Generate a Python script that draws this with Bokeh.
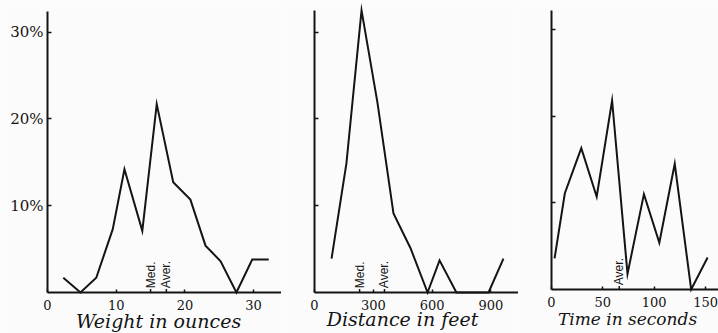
from math import pi
from bokeh.plotting import figure
from bokeh.layouts import row
from bokeh.models import FixedTicker, Label
from bokeh.embed import file_html
from bokeh.resources import INLINE

# ---------------- data ----------------
weight_oz = [2.3, 4.8, 7.1, 9.5, 11.2, 13.8, 15.9, 18.3, 20.8, 23.0, 25.2, 27.5, 29.8, 32.2]
weight_pct = [1.7, 0.0, 1.7, 7.3, 14.2, 7.1, 21.7, 12.7, 10.7, 5.4, 3.6, 0.0, 3.8, 3.8]
weight_ticks = [0, 10, 20, 30]
weight_marks = [15.0, 17.3]
weight_mark_labels = ["Med.", "Aver."]

distance_ft = [87, 163, 240, 321, 403, 490, 577, 638, 724, 888, 964]
distance_pct = [3.9, 14.9, 32.5, 21.9, 9.1, 5.1, 0.0, 3.7, 0.0, 0.0, 3.9]
distance_ticks = [0, 300, 600, 900]
distance_marks = [230, 357]
distance_mark_labels = ["Med.", "Aver."]

time_s = [3, 13, 29, 44, 59, 74, 90, 105, 120, 136, 152]
time_pct = [3.6, 11.1, 16.3, 10.7, 21.8, 1.8, 11.0, 5.4, 14.5, 0.0, 3.7]
time_ticks = [0, 50, 100, 150]
time_marks = [66]
time_mark_labels = ["Aver."]

pct_ticks = [10, 20, 30]
pct_labels = ["10%", "20%", "30%"]

BG = "#fbfbfb"
INK = "#141414"
HAND = "DejaVu Serif"
H = 333


def panel(xs, ys, ticks, marks, mark_labels, title, title_x, title_y, title_size,
          width, x0_px, x_px, base_px, y_px, ytop_px, show_pct):
    x_range = (-x0_px / x_px, (width - x0_px) / x_px)
    y_range = (-(H - base_px) / y_px, base_px / y_px)
    ytop = (base_px - ytop_px) / y_px
    p = figure(width=width, height=H, x_range=x_range, y_range=y_range,
               toolbar_location=None, output_backend="svg",
               min_border_left=0, min_border_right=0,
               min_border_top=0, min_border_bottom=0,
               background_fill_color=BG, border_fill_color=BG,
               outline_line_color=None)
    p.xgrid.visible = False
    p.ygrid.visible = False

    xa = p.xaxis[0]
    xa.fixed_location = 0
    xa.bounds = (0, x_range[1])
    xa.ticker = FixedTicker(ticks=ticks, minor_ticks=[])
    xa.axis_line_width = 2
    xa.axis_line_color = INK
    xa.major_tick_in = 3
    xa.major_tick_out = 0
    xa.major_tick_line_width = 1.5
    xa.major_tick_line_color = INK
    xa.minor_tick_line_color = None
    xa.major_label_text_font = HAND
    xa.major_label_text_font_size = "13px"
    xa.major_label_text_color = INK
    xa.major_label_standoff = 7

    ya = p.yaxis[0]
    ya.fixed_location = 0
    ya.bounds = (0, ytop)
    ya.ticker = FixedTicker(ticks=pct_ticks, minor_ticks=[])
    ya.axis_line_width = 2
    ya.axis_line_color = INK
    ya.major_tick_in = 4
    ya.major_tick_out = 0
    ya.major_tick_line_width = 1.5
    ya.major_tick_line_color = INK
    ya.minor_tick_line_color = None
    ya.major_label_standoff = 4
    if show_pct:
        ya.major_label_overrides = dict(zip(pct_ticks, pct_labels))
        ya.major_label_text_font = HAND
        ya.major_label_text_font_size = "15px"
        ya.major_label_text_color = INK
    else:
        ya.major_label_text_font_size = "1px"
        ya.major_label_text_color = None

    p.line(xs, ys, line_width=2, line_color=INK, line_join="miter")

    p.segment(x0=marks, y0=[0] * len(marks), x1=marks, y1=[0.4] * len(marks),
              line_width=1.5, line_color=INK)
    p.text(x=marks, y=[0.5] * len(marks), text=mark_labels, angle=pi / 2,
           text_align="left", text_baseline="middle",
           text_font_size="12px", text_color=INK)

    # axis title under the baseline
    p.add_layout(Label(x=title_x, y=title_y, text=title,
                       text_align="center", text_baseline="alphabetic",
                       text_font=HAND, text_font_style="italic",
                       text_font_size=title_size, text_color=INK))
    return p


p1 = panel(weight_oz, weight_pct, weight_ticks, weight_marks, weight_mark_labels,
           "Weight in ounces", 16.16, -3.34, "19px",
           281, 47, 6.87, 292, 8.68, 11, True)
p2 = panel(distance_ft, distance_pct, distance_ticks, distance_marks, distance_mark_labels,
           "Distance in feet", 449, -3.11, "19px",
           237, 33, 0.196, 292, 8.68, 10, False)
p3 = panel(time_s, time_pct, time_ticks, time_marks, time_mark_labels,
           "Time in seconds", 74, -3.46, "17px",
           200, 33, 1.027, 289, 8.67, 10, False)

layout = row(p1, p2, p3, spacing=0)

open("out.html", "w").write(file_html(layout, INLINE))
